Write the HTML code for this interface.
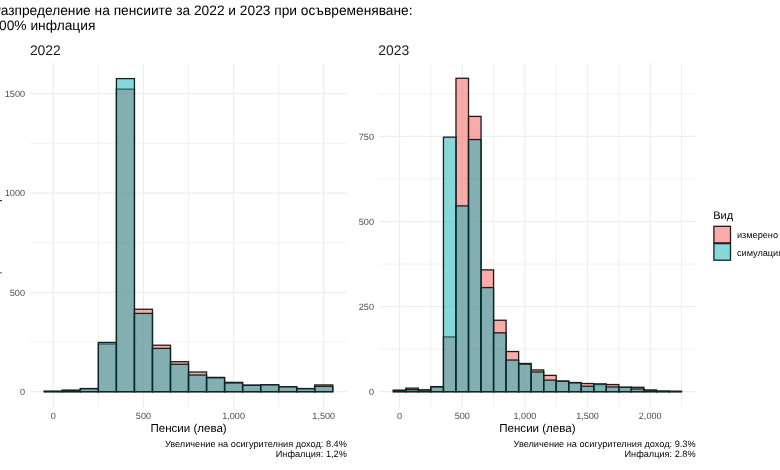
<!DOCTYPE html>
<html><head><meta charset="utf-8"><style>
html,body{margin:0;padding:0;background:#fff;width:780px;height:470px;overflow:hidden}
svg{display:block;will-change:transform}
text{font-family:"Liberation Sans",sans-serif}
.title{font-size:13.75px;fill:#000}
.strip{font-size:13.9px;fill:#1A1A1A}
.ax{font-size:9.1px;fill:#4D4D4D}
.at{font-size:11.55px;fill:#000}
.cap{font-size:9.2px;fill:#000}
.lt{font-size:11px;fill:#000}
.lx{font-size:9.15px;fill:#000}
</style></head><body>
<svg width="780" height="470" viewBox="0 0 780 470">
<rect width="780" height="470" fill="#fff"/>
<line x1="98.38" y1="62.7" x2="98.38" y2="407.6" stroke="#EEEEEE" stroke-width="0.8"/>
<line x1="188.52" y1="62.7" x2="188.52" y2="407.6" stroke="#EEEEEE" stroke-width="0.8"/>
<line x1="278.67" y1="62.7" x2="278.67" y2="407.6" stroke="#EEEEEE" stroke-width="0.8"/>
<line x1="29.9" y1="342.03" x2="347.2" y2="342.03" stroke="#EEEEEE" stroke-width="0.8"/>
<line x1="29.9" y1="242.7" x2="347.2" y2="242.7" stroke="#EEEEEE" stroke-width="0.8"/>
<line x1="29.9" y1="143.36" x2="347.2" y2="143.36" stroke="#EEEEEE" stroke-width="0.8"/>
<line x1="53.3" y1="62.7" x2="53.3" y2="407.6" stroke="#EEEEEE" stroke-width="1.2"/>
<line x1="143.45" y1="62.7" x2="143.45" y2="407.6" stroke="#EEEEEE" stroke-width="1.2"/>
<line x1="233.6" y1="62.7" x2="233.6" y2="407.6" stroke="#EEEEEE" stroke-width="1.2"/>
<line x1="323.75" y1="62.7" x2="323.75" y2="407.6" stroke="#EEEEEE" stroke-width="1.2"/>
<line x1="29.9" y1="391.7" x2="347.2" y2="391.7" stroke="#EEEEEE" stroke-width="1.2"/>
<line x1="29.9" y1="292.37" x2="347.2" y2="292.37" stroke="#EEEEEE" stroke-width="1.2"/>
<line x1="29.9" y1="193.03" x2="347.2" y2="193.03" stroke="#EEEEEE" stroke-width="1.2"/>
<line x1="29.9" y1="93.69" x2="347.2" y2="93.69" stroke="#EEEEEE" stroke-width="1.2"/>
<rect x="44.28" y="391.3" width="18.03" height="0.4" fill="rgb(239,89,85)" fill-opacity="0.5" stroke="#2a1616" stroke-width="1.3"/>
<rect x="62.31" y="390.31" width="18.03" height="1.39" fill="rgb(239,89,85)" fill-opacity="0.5" stroke="#2a1616" stroke-width="1.3"/>
<rect x="80.34" y="388.52" width="18.03" height="3.18" fill="rgb(239,89,85)" fill-opacity="0.5" stroke="#2a1616" stroke-width="1.3"/>
<rect x="98.38" y="344.02" width="18.03" height="47.68" fill="rgb(239,89,85)" fill-opacity="0.5" stroke="#2a1616" stroke-width="1.3"/>
<rect x="116.41" y="89.13" width="18.03" height="302.57" fill="rgb(239,89,85)" fill-opacity="0.5" stroke="#2a1616" stroke-width="1.3"/>
<rect x="134.44" y="309.25" width="18.03" height="82.45" fill="rgb(239,89,85)" fill-opacity="0.5" stroke="#2a1616" stroke-width="1.3"/>
<rect x="152.46" y="345.21" width="18.03" height="46.49" fill="rgb(239,89,85)" fill-opacity="0.5" stroke="#2a1616" stroke-width="1.3"/>
<rect x="170.5" y="361.7" width="18.03" height="30" fill="rgb(239,89,85)" fill-opacity="0.5" stroke="#2a1616" stroke-width="1.3"/>
<rect x="188.52" y="372.03" width="18.03" height="19.67" fill="rgb(239,89,85)" fill-opacity="0.5" stroke="#2a1616" stroke-width="1.3"/>
<rect x="206.56" y="377.4" width="18.03" height="14.3" fill="rgb(239,89,85)" fill-opacity="0.5" stroke="#2a1616" stroke-width="1.3"/>
<rect x="224.58" y="382.36" width="18.03" height="9.34" fill="rgb(239,89,85)" fill-opacity="0.5" stroke="#2a1616" stroke-width="1.3"/>
<rect x="242.62" y="385.14" width="18.03" height="6.56" fill="rgb(239,89,85)" fill-opacity="0.5" stroke="#2a1616" stroke-width="1.3"/>
<rect x="260.64" y="384.75" width="18.03" height="6.95" fill="rgb(239,89,85)" fill-opacity="0.5" stroke="#2a1616" stroke-width="1.3"/>
<rect x="278.67" y="386.73" width="18.03" height="4.97" fill="rgb(239,89,85)" fill-opacity="0.5" stroke="#2a1616" stroke-width="1.3"/>
<rect x="296.7" y="388.52" width="18.03" height="3.18" fill="rgb(239,89,85)" fill-opacity="0.5" stroke="#2a1616" stroke-width="1.3"/>
<rect x="314.74" y="384.95" width="18.03" height="6.75" fill="rgb(239,89,85)" fill-opacity="0.5" stroke="#2a1616" stroke-width="1.3"/>
<rect x="44.28" y="391.3" width="18.03" height="0.4" fill="rgb(15,177,181)" fill-opacity="0.5" stroke="#0c2426" stroke-width="1.3"/>
<rect x="62.31" y="390.31" width="18.03" height="1.39" fill="rgb(15,177,181)" fill-opacity="0.5" stroke="#0c2426" stroke-width="1.3"/>
<rect x="80.34" y="388.72" width="18.03" height="2.98" fill="rgb(15,177,181)" fill-opacity="0.5" stroke="#0c2426" stroke-width="1.3"/>
<rect x="98.38" y="342.43" width="18.03" height="49.27" fill="rgb(15,177,181)" fill-opacity="0.5" stroke="#0c2426" stroke-width="1.3"/>
<rect x="116.41" y="78.6" width="18.03" height="313.1" fill="rgb(15,177,181)" fill-opacity="0.5" stroke="#0c2426" stroke-width="1.3"/>
<rect x="134.44" y="313.42" width="18.03" height="78.28" fill="rgb(15,177,181)" fill-opacity="0.5" stroke="#0c2426" stroke-width="1.3"/>
<rect x="152.46" y="348.39" width="18.03" height="43.31" fill="rgb(15,177,181)" fill-opacity="0.5" stroke="#0c2426" stroke-width="1.3"/>
<rect x="170.5" y="364.28" width="18.03" height="27.42" fill="rgb(15,177,181)" fill-opacity="0.5" stroke="#0c2426" stroke-width="1.3"/>
<rect x="188.52" y="375.01" width="18.03" height="16.69" fill="rgb(15,177,181)" fill-opacity="0.5" stroke="#0c2426" stroke-width="1.3"/>
<rect x="206.56" y="377.79" width="18.03" height="13.91" fill="rgb(15,177,181)" fill-opacity="0.5" stroke="#0c2426" stroke-width="1.3"/>
<rect x="224.58" y="382.96" width="18.03" height="8.74" fill="rgb(15,177,181)" fill-opacity="0.5" stroke="#0c2426" stroke-width="1.3"/>
<rect x="242.62" y="385.34" width="18.03" height="6.36" fill="rgb(15,177,181)" fill-opacity="0.5" stroke="#0c2426" stroke-width="1.3"/>
<rect x="260.64" y="384.75" width="18.03" height="6.95" fill="rgb(15,177,181)" fill-opacity="0.5" stroke="#0c2426" stroke-width="1.3"/>
<rect x="278.67" y="386.73" width="18.03" height="4.97" fill="rgb(15,177,181)" fill-opacity="0.5" stroke="#0c2426" stroke-width="1.3"/>
<rect x="296.7" y="388.72" width="18.03" height="2.98" fill="rgb(15,177,181)" fill-opacity="0.5" stroke="#0c2426" stroke-width="1.3"/>
<rect x="314.74" y="386.34" width="18.03" height="5.36" fill="rgb(15,177,181)" fill-opacity="0.5" stroke="#0c2426" stroke-width="1.3"/>
<text x="53.3" y="419.2" transform="matrix(1 0 -0.001745 1 0.7315 0)" text-anchor="middle" class="ax">0</text>
<text x="143.45" y="419.2" transform="matrix(1 0 -0.001745 1 0.7315 0)" text-anchor="middle" class="ax">500</text>
<text x="233.6" y="419.2" transform="matrix(1 0 -0.001745 1 0.7315 0)" text-anchor="middle" class="ax">1,000</text>
<text x="323.75" y="419.2" transform="matrix(1 0 -0.001745 1 0.7315 0)" text-anchor="middle" class="ax">1,500</text>
<text x="25.0" y="394.95" transform="matrix(1 0 -0.001745 1 0.6892 0)" text-anchor="end" class="ax">0</text>
<text x="25.0" y="295.62" transform="matrix(1 0 -0.001745 1 0.5159 0)" text-anchor="end" class="ax">500</text>
<text x="25.0" y="196.28" transform="matrix(1 0 -0.001745 1 0.3425 0)" text-anchor="end" class="ax">1000</text>
<text x="25.0" y="96.94" transform="matrix(1 0 -0.001745 1 0.1692 0)" text-anchor="end" class="ax">1500</text>
<text x="188.55" y="431.9" transform="matrix(1 0 -0.001745 1 0.7537 0)" text-anchor="middle" class="at">Пенсии (лева)</text>
<text x="346.9" y="447.3" transform="matrix(1 0 -0.001745 1 0.7805 0)" text-anchor="end" class="cap">Увеличение на осигурителния доход: 8.4%</text>
<text x="346.9" y="456.7" transform="matrix(1 0 -0.001745 1 0.7969 0)" text-anchor="end" class="cap">Инфалция: 1,2%</text>
<text x="29.9" y="54.7" transform="matrix(1 0 -0.001745 1 0.0955 0)" class="strip">2022</text>
<line x1="430.92" y1="62.7" x2="430.92" y2="407.6" stroke="#EEEEEE" stroke-width="0.8"/>
<line x1="493.57" y1="62.7" x2="493.57" y2="407.6" stroke="#EEEEEE" stroke-width="0.8"/>
<line x1="556.21" y1="62.7" x2="556.21" y2="407.6" stroke="#EEEEEE" stroke-width="0.8"/>
<line x1="618.86" y1="62.7" x2="618.86" y2="407.6" stroke="#EEEEEE" stroke-width="0.8"/>
<line x1="681.5" y1="62.7" x2="681.5" y2="407.6" stroke="#EEEEEE" stroke-width="0.8"/>
<line x1="378.9" y1="349.16" x2="695.9" y2="349.16" stroke="#EEEEEE" stroke-width="0.8"/>
<line x1="378.9" y1="264.09" x2="695.9" y2="264.09" stroke="#EEEEEE" stroke-width="0.8"/>
<line x1="378.9" y1="179.01" x2="695.9" y2="179.01" stroke="#EEEEEE" stroke-width="0.8"/>
<line x1="378.9" y1="93.94" x2="695.9" y2="93.94" stroke="#EEEEEE" stroke-width="0.8"/>
<line x1="399.6" y1="62.7" x2="399.6" y2="407.6" stroke="#EEEEEE" stroke-width="1.2"/>
<line x1="462.25" y1="62.7" x2="462.25" y2="407.6" stroke="#EEEEEE" stroke-width="1.2"/>
<line x1="524.89" y1="62.7" x2="524.89" y2="407.6" stroke="#EEEEEE" stroke-width="1.2"/>
<line x1="587.54" y1="62.7" x2="587.54" y2="407.6" stroke="#EEEEEE" stroke-width="1.2"/>
<line x1="650.18" y1="62.7" x2="650.18" y2="407.6" stroke="#EEEEEE" stroke-width="1.2"/>
<line x1="378.9" y1="391.7" x2="695.9" y2="391.7" stroke="#EEEEEE" stroke-width="1.2"/>
<line x1="378.9" y1="306.62" x2="695.9" y2="306.62" stroke="#EEEEEE" stroke-width="1.2"/>
<line x1="378.9" y1="221.55" x2="695.9" y2="221.55" stroke="#EEEEEE" stroke-width="1.2"/>
<line x1="378.9" y1="136.47" x2="695.9" y2="136.47" stroke="#EEEEEE" stroke-width="1.2"/>
<rect x="393.34" y="390.34" width="12.53" height="1.36" fill="rgb(239,89,85)" fill-opacity="0.5" stroke="#2a1616" stroke-width="1.3"/>
<rect x="405.86" y="388.13" width="12.53" height="3.57" fill="rgb(239,89,85)" fill-opacity="0.5" stroke="#2a1616" stroke-width="1.3"/>
<rect x="418.39" y="390" width="12.53" height="1.7" fill="rgb(239,89,85)" fill-opacity="0.5" stroke="#2a1616" stroke-width="1.3"/>
<rect x="430.92" y="386.6" width="12.53" height="5.1" fill="rgb(239,89,85)" fill-opacity="0.5" stroke="#2a1616" stroke-width="1.3"/>
<rect x="443.45" y="336.91" width="12.53" height="54.79" fill="rgb(239,89,85)" fill-opacity="0.5" stroke="#2a1616" stroke-width="1.3"/>
<rect x="455.98" y="78.28" width="12.53" height="313.42" fill="rgb(239,89,85)" fill-opacity="0.5" stroke="#2a1616" stroke-width="1.3"/>
<rect x="468.51" y="116.4" width="12.53" height="275.3" fill="rgb(239,89,85)" fill-opacity="0.5" stroke="#2a1616" stroke-width="1.3"/>
<rect x="481.04" y="269.87" width="12.53" height="121.83" fill="rgb(239,89,85)" fill-opacity="0.5" stroke="#2a1616" stroke-width="1.3"/>
<rect x="493.57" y="320.24" width="12.53" height="71.46" fill="rgb(239,89,85)" fill-opacity="0.5" stroke="#2a1616" stroke-width="1.3"/>
<rect x="506.1" y="351.54" width="12.53" height="40.16" fill="rgb(239,89,85)" fill-opacity="0.5" stroke="#2a1616" stroke-width="1.3"/>
<rect x="518.63" y="363.46" width="12.53" height="28.24" fill="rgb(239,89,85)" fill-opacity="0.5" stroke="#2a1616" stroke-width="1.3"/>
<rect x="531.15" y="369.92" width="12.53" height="21.78" fill="rgb(239,89,85)" fill-opacity="0.5" stroke="#2a1616" stroke-width="1.3"/>
<rect x="543.68" y="375.37" width="12.53" height="16.33" fill="rgb(239,89,85)" fill-opacity="0.5" stroke="#2a1616" stroke-width="1.3"/>
<rect x="556.21" y="381.15" width="12.53" height="10.55" fill="rgb(239,89,85)" fill-opacity="0.5" stroke="#2a1616" stroke-width="1.3"/>
<rect x="568.74" y="382.51" width="12.53" height="9.19" fill="rgb(239,89,85)" fill-opacity="0.5" stroke="#2a1616" stroke-width="1.3"/>
<rect x="581.27" y="383.53" width="12.53" height="8.17" fill="rgb(239,89,85)" fill-opacity="0.5" stroke="#2a1616" stroke-width="1.3"/>
<rect x="593.8" y="384.55" width="12.53" height="7.15" fill="rgb(239,89,85)" fill-opacity="0.5" stroke="#2a1616" stroke-width="1.3"/>
<rect x="606.33" y="384.55" width="12.53" height="7.15" fill="rgb(239,89,85)" fill-opacity="0.5" stroke="#2a1616" stroke-width="1.3"/>
<rect x="618.86" y="387.28" width="12.53" height="4.42" fill="rgb(239,89,85)" fill-opacity="0.5" stroke="#2a1616" stroke-width="1.3"/>
<rect x="631.39" y="387.28" width="12.53" height="4.42" fill="rgb(239,89,85)" fill-opacity="0.5" stroke="#2a1616" stroke-width="1.3"/>
<rect x="643.92" y="390.17" width="12.53" height="1.53" fill="rgb(239,89,85)" fill-opacity="0.5" stroke="#2a1616" stroke-width="1.3"/>
<rect x="656.44" y="391.19" width="12.53" height="0.51" fill="rgb(239,89,85)" fill-opacity="0.5" stroke="#2a1616" stroke-width="1.3"/>
<rect x="668.97" y="391.36" width="12.53" height="0.34" fill="rgb(239,89,85)" fill-opacity="0.5" stroke="#2a1616" stroke-width="1.3"/>
<rect x="393.34" y="390.34" width="12.53" height="1.36" fill="rgb(15,177,181)" fill-opacity="0.5" stroke="#0c2426" stroke-width="1.3"/>
<rect x="405.86" y="389.66" width="12.53" height="2.04" fill="rgb(15,177,181)" fill-opacity="0.5" stroke="#0c2426" stroke-width="1.3"/>
<rect x="418.39" y="390" width="12.53" height="1.7" fill="rgb(15,177,181)" fill-opacity="0.5" stroke="#0c2426" stroke-width="1.3"/>
<rect x="430.92" y="386.94" width="12.53" height="4.76" fill="rgb(15,177,181)" fill-opacity="0.5" stroke="#0c2426" stroke-width="1.3"/>
<rect x="443.45" y="137.16" width="12.53" height="254.54" fill="rgb(15,177,181)" fill-opacity="0.5" stroke="#0c2426" stroke-width="1.3"/>
<rect x="455.98" y="205.9" width="12.53" height="185.8" fill="rgb(15,177,181)" fill-opacity="0.5" stroke="#0c2426" stroke-width="1.3"/>
<rect x="468.51" y="139.54" width="12.53" height="252.16" fill="rgb(15,177,181)" fill-opacity="0.5" stroke="#0c2426" stroke-width="1.3"/>
<rect x="481.04" y="287.57" width="12.53" height="104.13" fill="rgb(15,177,181)" fill-opacity="0.5" stroke="#0c2426" stroke-width="1.3"/>
<rect x="493.57" y="332.83" width="12.53" height="58.87" fill="rgb(15,177,181)" fill-opacity="0.5" stroke="#0c2426" stroke-width="1.3"/>
<rect x="506.1" y="360.05" width="12.53" height="31.65" fill="rgb(15,177,181)" fill-opacity="0.5" stroke="#0c2426" stroke-width="1.3"/>
<rect x="518.63" y="364.14" width="12.53" height="27.56" fill="rgb(15,177,181)" fill-opacity="0.5" stroke="#0c2426" stroke-width="1.3"/>
<rect x="531.15" y="371.96" width="12.53" height="19.74" fill="rgb(15,177,181)" fill-opacity="0.5" stroke="#0c2426" stroke-width="1.3"/>
<rect x="543.68" y="380.13" width="12.53" height="11.57" fill="rgb(15,177,181)" fill-opacity="0.5" stroke="#0c2426" stroke-width="1.3"/>
<rect x="556.21" y="381.15" width="12.53" height="10.55" fill="rgb(15,177,181)" fill-opacity="0.5" stroke="#0c2426" stroke-width="1.3"/>
<rect x="568.74" y="382.85" width="12.53" height="8.85" fill="rgb(15,177,181)" fill-opacity="0.5" stroke="#0c2426" stroke-width="1.3"/>
<rect x="581.27" y="386.26" width="12.53" height="5.44" fill="rgb(15,177,181)" fill-opacity="0.5" stroke="#0c2426" stroke-width="1.3"/>
<rect x="593.8" y="383.87" width="12.53" height="7.83" fill="rgb(15,177,181)" fill-opacity="0.5" stroke="#0c2426" stroke-width="1.3"/>
<rect x="606.33" y="386.94" width="12.53" height="4.76" fill="rgb(15,177,181)" fill-opacity="0.5" stroke="#0c2426" stroke-width="1.3"/>
<rect x="618.86" y="387.28" width="12.53" height="4.42" fill="rgb(15,177,181)" fill-opacity="0.5" stroke="#0c2426" stroke-width="1.3"/>
<rect x="631.39" y="388.98" width="12.53" height="2.72" fill="rgb(15,177,181)" fill-opacity="0.5" stroke="#0c2426" stroke-width="1.3"/>
<rect x="643.92" y="390.17" width="12.53" height="1.53" fill="rgb(15,177,181)" fill-opacity="0.5" stroke="#0c2426" stroke-width="1.3"/>
<rect x="656.44" y="391.19" width="12.53" height="0.51" fill="rgb(15,177,181)" fill-opacity="0.5" stroke="#0c2426" stroke-width="1.3"/>
<rect x="668.97" y="391.36" width="12.53" height="0.34" fill="rgb(15,177,181)" fill-opacity="0.5" stroke="#0c2426" stroke-width="1.3"/>
<text x="399.6" y="419.2" transform="matrix(1 0 -0.001745 1 0.7315 0)" text-anchor="middle" class="ax">0</text>
<text x="462.25" y="419.2" transform="matrix(1 0 -0.001745 1 0.7315 0)" text-anchor="middle" class="ax">500</text>
<text x="524.89" y="419.2" transform="matrix(1 0 -0.001745 1 0.7315 0)" text-anchor="middle" class="ax">1,000</text>
<text x="587.54" y="419.2" transform="matrix(1 0 -0.001745 1 0.7315 0)" text-anchor="middle" class="ax">1,500</text>
<text x="650.18" y="419.2" transform="matrix(1 0 -0.001745 1 0.7315 0)" text-anchor="middle" class="ax">2,000</text>
<text x="374.0" y="394.95" transform="matrix(1 0 -0.001745 1 0.6892 0)" text-anchor="end" class="ax">0</text>
<text x="374.0" y="309.88" transform="matrix(1 0 -0.001745 1 0.5407 0)" text-anchor="end" class="ax">250</text>
<text x="374.0" y="224.8" transform="matrix(1 0 -0.001745 1 0.3923 0)" text-anchor="end" class="ax">500</text>
<text x="374.0" y="139.72" transform="matrix(1 0 -0.001745 1 0.2438 0)" text-anchor="end" class="ax">750</text>
<text x="537.4" y="431.9" transform="matrix(1 0 -0.001745 1 0.7537 0)" text-anchor="middle" class="at">Пенсии (лева)</text>
<text x="695.6" y="447.3" transform="matrix(1 0 -0.001745 1 0.7805 0)" text-anchor="end" class="cap">Увеличение на осигурителния доход: 9.3%</text>
<text x="695.6" y="456.7" transform="matrix(1 0 -0.001745 1 0.7969 0)" text-anchor="end" class="cap">Инфалция: 2.8%</text>
<text x="378.3" y="54.7" transform="matrix(1 0 -0.001745 1 0.0955 0)" class="strip">2023</text>
<text x="-8.0" y="15.3" transform="matrix(1 0 -0.001745 1 0.0267 0)" class="title">Разпределение на пенсиите за 2022 и 2023 при осъвременяване:</text>
<text x="-8.6" y="30.0" transform="matrix(1 0 -0.001745 1 0.0524 0)" class="title">100% инфлация</text>
<rect x="0" y="200" width="2" height="1.2" fill="#333"/>
<rect x="0" y="272.2" width="2" height="1.2" fill="#777"/>
<text x="713.2" y="218.7" transform="matrix(1 0 -0.001745 1 0.3816 0)" class="lt">Вид</text>
<rect x="713.9" y="226.3" width="16.6" height="16.6" fill="rgb(239,89,85)" fill-opacity="0.5" stroke="#2a1616" stroke-width="1.3"/>
<rect x="713.9" y="243.6" width="16.6" height="16.6" fill="rgb(15,177,181)" fill-opacity="0.5" stroke="#0c2426" stroke-width="1.3"/>
<text x="737" y="238.1" transform="matrix(1 0 -0.001745 1 0.4155 0)" class="lx">измерено</text>
<text x="737" y="255.8" transform="matrix(1 0 -0.001745 1 0.4464 0)" class="lx">симулация</text>
</svg>
</body></html>
